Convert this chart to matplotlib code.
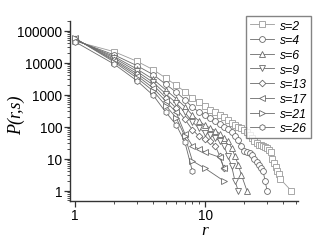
import matplotlib
matplotlib.use("Agg")
import matplotlib.pyplot as plt
from matplotlib.ticker import LogLocator, FixedLocator, NullFormatter

# r values and P(r,s) for each s
r_s2 = list(range(1, 39)) + [46]
p_s2 = [47000, 22000, 11000, 6000, 3300, 1950, 1250, 800, 580, 430,
        340, 280, 230, 195, 160, 135, 115, 100, 88, 76,
        66, 55, 44, 35, 30, 27, 26, 25, 24, 22,
        19, 16, 10, 7.5, 5.5, 4.2, 3.3, 2.3, 1]

r_s4 = list(range(1, 31))
p_s4 = [50000, 17500, 8000, 4200, 2100, 1200, 700, 400, 290, 230,
        185, 150, 120, 100, 85, 68, 52, 38, 25, 18,
        16, 15, 13, 10, 8, 6.5, 5, 4, 2, 1]

r_s6 = list(range(1, 20)) + [21]
p_s6 = [52000, 15500, 6300, 3000, 1400, 750, 420, 230, 150, 110,
        90, 75, 60, 45, 35, 22, 12, 6.5, 3.2, 1]

r_s9 = list(range(1, 19))
p_s9 = [54000, 14000, 5300, 2400, 1050, 550, 280, 140, 90, 65,
        55, 45, 35, 25, 12, 6, 2, 1]

r_s13 = list(range(1, 15))
p_s13 = [56000, 12500, 4500, 2000, 800, 380, 170, 80, 50, 40,
         35, 25, 12, 5]

r_s17 = [1, 2, 3, 4, 5, 6, 7, 8, 9, 10, 13, 14]
p_s17 = [57000, 11500, 3900, 1600, 620, 280, 60, 25, 20, 16, 11, 5]

r_s21 = [1, 2, 3, 4, 5, 6, 7, 8, 10, 14]
p_s21 = [58000, 10500, 3300, 1300, 450, 190, 50, 8.5, 5, 2]

r_s26 = [1, 2, 3, 4, 5, 6, 7, 8]
p_s26 = [45000, 9000, 2700, 950, 280, 115, 33, 4]

SERIES = [
    (r_s2, p_s2, "s", "s=2", "#9a9a9a"),
    (r_s4, p_s4, "o", "s=4", "#6a6a6a"),
    (r_s6, p_s6, "^", "s=6", "#6a6a6a"),
    (r_s9, p_s9, "v", "s=9", "#6a6a6a"),
    (r_s13, p_s13, "D", "s=13", "#6a6a6a"),
    (r_s17, p_s17, "<", "s=17", "#6a6a6a"),
    (r_s21, p_s21, ">", "s=21", "#6a6a6a"),
    (r_s26, p_s26, "h", "s=26", "#6a6a6a"),
]


def main():
    W, H = 328, 253
    fig = plt.figure(figsize=(W / 100, H / 100), dpi=100)
    ax = fig.add_axes([70 / W, 1 - 201.7 / H, (298 - 70) / W, (201.7 - 22) / H])

    handles = []
    for xs, ys, marker, label, color in SERIES:
        ms = 4.2 if marker != "D" else 3.4
        (h,) = ax.plot(xs, ys, marker=marker, markersize=ms, linewidth=0.6,
                       color=color, markerfacecolor="white",
                       markeredgecolor=color, markeredgewidth=0.6, label=label)
        handles.append(h)

    ax.set_xscale("log")
    ax.set_yscale("log")
    ax.set_xlim(0.915, 51.9)
    ax.set_ylim(0.487, 2.0e5)

    ax.spines["top"].set_visible(False)
    ax.spines["right"].set_visible(False)
    for sp in ("left", "bottom"):
        ax.spines[sp].set_linewidth(1.0)
        ax.spines[sp].set_color("#333333")

    ax.yaxis.set_major_locator(FixedLocator([1, 10, 100, 1000, 10000, 100000]))
    ax.set_yticklabels(["1", "10", "100", "1000", "10000", "100000"])
    ax.yaxis.set_minor_locator(LogLocator(base=10, subs=range(2, 10)))
    ax.yaxis.set_minor_formatter(NullFormatter())
    ax.xaxis.set_major_locator(FixedLocator([1, 10]))
    ax.set_xticklabels(["1", "10"])
    ax.xaxis.set_minor_locator(LogLocator(base=10, subs=range(2, 10)))
    ax.xaxis.set_minor_formatter(NullFormatter())

    ax.tick_params(which="major", direction="out", length=4, width=0.9,
                   labelsize=9.8, pad=1.5, colors="#333333", labelcolor="black")
    ax.tick_params(which="minor", direction="out", length=2, width=0.6,
                   colors="#333333")
    for lab in ax.get_xticklabels() + ax.get_yticklabels():
        lab.set_family("Liberation Sans")

    ax.set_ylabel("P(r,s)", fontsize=13, family="Liberation Serif",
                  style="italic")
    ax.yaxis.set_label_coords(-0.195, 0.48)
    ax.set_xlabel("r", fontsize=12.5, family="Liberation Serif",
                  style="italic")
    ax.xaxis.set_label_coords(0.59, -0.12)

    leg = fig.legend(handles=handles, loc="upper left",
                     bbox_to_anchor=(246 / W, 1 - 17 / H),
                     bbox_transform=fig.transFigure,
                     frameon=True, fancybox=False, borderpad=0.3,
                     labelspacing=0.22, handlelength=2.0, handletextpad=0.5,
                     borderaxespad=0,
                     prop={"family": "Liberation Sans", "style": "italic",
                           "size": 8.8})
    leg.get_frame().set_edgecolor("#666666")
    leg.get_frame().set_linewidth(1.0)

    fig.savefig("out.png", dpi=100)


if __name__ == "__main__":
    main()
